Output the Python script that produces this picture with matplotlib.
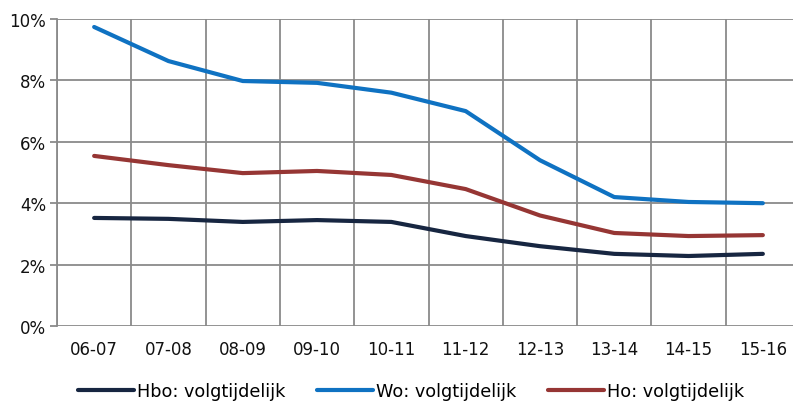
import numpy as np
import matplotlib
matplotlib.use("Agg")
import matplotlib.pyplot as plt
from matplotlib.ticker import FixedLocator, PercentFormatter

years = ["06-07", "07-08", "08-09", "09-10", "10-11",
         "11-12", "12-13", "13-14", "14-15", "15-16"]
hbo = [3.52, 3.49, 3.39, 3.45, 3.39, 2.93, 2.60, 2.35, 2.28, 2.35]
wo = [9.74, 8.63, 7.98, 7.92, 7.60, 7.00, 5.40, 4.20, 4.04, 4.00]
ho = [5.54, 5.24, 4.98, 5.05, 4.92, 4.46, 3.60, 3.03, 2.93, 2.96]

series = [
    ("Hbo: volgtijdelijk", hbo, "#172641"),
    ("Wo: volgtijdelijk", wo, "#0F72C2"),
    ("Ho: volgtijdelijk", ho, "#963634"),
]

grid_color = "#8a8a8a"

fig = plt.figure(figsize=(7.93, 4.02), dpi=100)
ax = fig.add_axes([57 / 793, 1 - 327 / 402, 743 / 793, 307 / 402])

x = np.arange(len(years))
for label, vals, color in series:
    ax.plot(x, vals, color=color, lw=3.0, label=label,
            solid_joinstyle="round", solid_capstyle="round")

ax.set_xlim(-0.5, len(years) - 0.5)
ax.set_ylim(0, 10)
ax.set_yticks(np.arange(0, 11, 2))
ax.yaxis.set_major_formatter(PercentFormatter(decimals=0))
ax.set_xticks(x)
ax.set_xticklabels(years)
ax.xaxis.set_minor_locator(FixedLocator(np.arange(len(years) + 1) - 0.5))

ax.grid(axis="y", which="major", color=grid_color, lw=1.3)
ax.grid(axis="x", which="minor", color=grid_color, lw=1.3)
ax.set_axisbelow(True)

for s in ["top", "right", "bottom"]:
    ax.spines[s].set_visible(False)
ax.spines["left"].set_color(grid_color)
ax.spines["left"].set_linewidth(1.3)

ax.tick_params(axis="y", length=5, width=1.3, color=grid_color,
               labelsize=12, labelcolor="#111111", pad=3)
ax.tick_params(axis="x", which="major", length=0, labelsize=12,
               labelcolor="#111111", pad=10)
ax.tick_params(axis="x", which="minor", length=0)

fig.legend(loc="lower center", bbox_to_anchor=(0.518, -0.038), ncol=3,
           frameon=False, fontsize=12.7, handlelength=3.2,
           handletextpad=0.15, columnspacing=1.8)

fig.savefig("out.png", dpi=100)
